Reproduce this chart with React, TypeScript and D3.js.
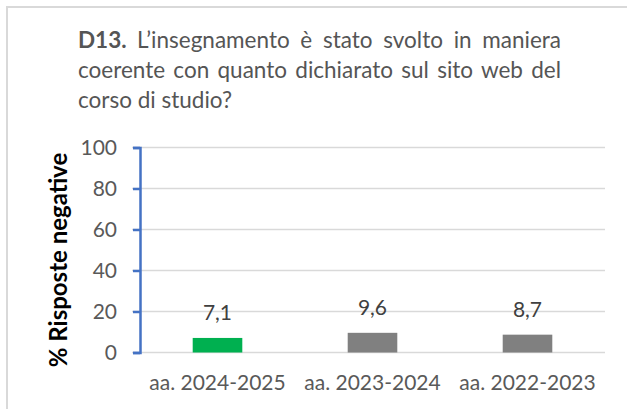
import React, { useEffect, useRef } from 'react';
import * as d3 from 'd3';

// chart data
const categories = ['aa. 2024-2025', 'aa. 2023-2024', 'aa. 2022-2023'];
const values = [7.1, 9.6, 8.7];
const barColors = ['#00b050', '#808080', '#808080'];
const yTicks = [0, 20, 40, 60, 80, 100];
const titleBold = 'D13.';
const titleLines = [
  'L\u2019insegnamento è stato svolto in maniera',
  'coerente con quanto dichiarato sul sito web del',
  'corso di studio?',
];
const yLabel = '% Risposte negative';

const App = () => {
  const ref = useRef<SVGSVGElement>(null);

  useEffect(() => {
    document.body.style.margin = '0';
    const width = 627;
    const height = 409;
    const font = 'Lato, "Open Sans", sans-serif';
    const textColor = '#595959';

    const svg = d3.select(ref.current);
    svg.selectAll('*').remove();

    // frame
    svg.append('rect')
      .attr('x', 7).attr('y', 7)
      .attr('width', width + 20).attr('height', height + 20)
      .attr('fill', '#fff')
      .attr('stroke', '#d9d9d9')
      .attr('stroke-width', 2);

    // title, justified lines
    const left = 78;
    const right = 561;
    const lineH = 30;
    titleLines.forEach((line, i) => {
      const t = svg.append('text')
        .attr('x', left)
        .attr('y', 48 + i * lineH)
        .attr('font-family', font)
        .attr('font-size', 22.5)
        .attr('fill', '#555')
        .attr('xml:space', 'preserve');
      if (i === 0) {
        t.append('tspan').attr('font-weight', 'bold').text(titleBold + ' ');
      }
      t.append('tspan').text(line);
      if (i < titleLines.length - 1) {
        const node = t.node() as SVGTextElement;
        const w = node.getComputedTextLength();
        const gaps = (i === 0 ? 1 : 0) + line.split(' ').length - 1;
        t.attr('word-spacing', (right - left - w) / gaps);
      }
    });

    // scales
    const x = d3.scaleBand()
      .domain(categories)
      .range([140, 605])
      .paddingInner(0.68)
      .paddingOuter(0.34);
    const y = d3.scaleLinear().domain([0, 100]).range([352.5, 147.5]);

    // grid
    svg.append('g')
      .selectAll('line')
      .data(yTicks)
      .join('line')
      .attr('x1', 132).attr('x2', 605)
      .attr('y1', d => y(d)).attr('y2', d => y(d))
      .attr('stroke', '#d9d9d9')
      .attr('stroke-width', 1.5);

    // bars
    svg.append('g')
      .selectAll('rect')
      .data(values)
      .join('rect')
      .attr('x', (d, i) => x(categories[i])!)
      .attr('y', d => y(d))
      .attr('width', x.bandwidth())
      .attr('height', d => y(0) - y(d))
      .attr('fill', (d, i) => barColors[i]);

    // value labels
    svg.append('g')
      .selectAll('text')
      .data(values)
      .join('text')
      .attr('x', (d, i) => x(categories[i])! + x.bandwidth() / 2)
      .attr('y', d => y(d) - 18)
      .attr('text-anchor', 'middle')
      .attr('font-family', font)
      .attr('font-size', 21)
      .attr('fill', '#404040')
      .text(d => d.toFixed(1).replace('.', ','));

    // y axis
    const yAxis = svg.append('g')
      .attr('transform', 'translate(140,0)')
      .call(d3.axisLeft(y).tickValues(yTicks).tickSize(7).tickPadding(16));
    yAxis.select('.domain').attr('stroke', '#4472c4').attr('stroke-width', 2.5);
    yAxis.selectAll('.tick line').attr('stroke', '#4472c4').attr('stroke-width', 2.5);
    yAxis.selectAll('.tick text')
      .attr('font-family', font)
      .attr('font-size', 21)
      .attr('fill', textColor)
      .attr('dy', '0.35em');

    // x labels
    svg.append('g')
      .selectAll('text')
      .data(categories)
      .join('text')
      .attr('x', d => x(d)! + x.bandwidth() / 2)
      .attr('y', 390)
      .attr('text-anchor', 'middle')
      .attr('font-family', font)
      .attr('font-size', 21)
      .attr('fill', textColor)
      .text(d => d);

    // y label
    svg.append('text')
      .attr('transform', 'translate(67,260) rotate(-90)')
      .attr('text-anchor', 'middle')
      .attr('font-family', font)
      .attr('font-size', 24)
      .attr('font-weight', 'bold')
      .attr('fill', '#000')
      .text(yLabel);
  }, []);

  return <svg ref={ref} width={627} height={409} style={{ display: 'block' }} />;
};

export default App;
